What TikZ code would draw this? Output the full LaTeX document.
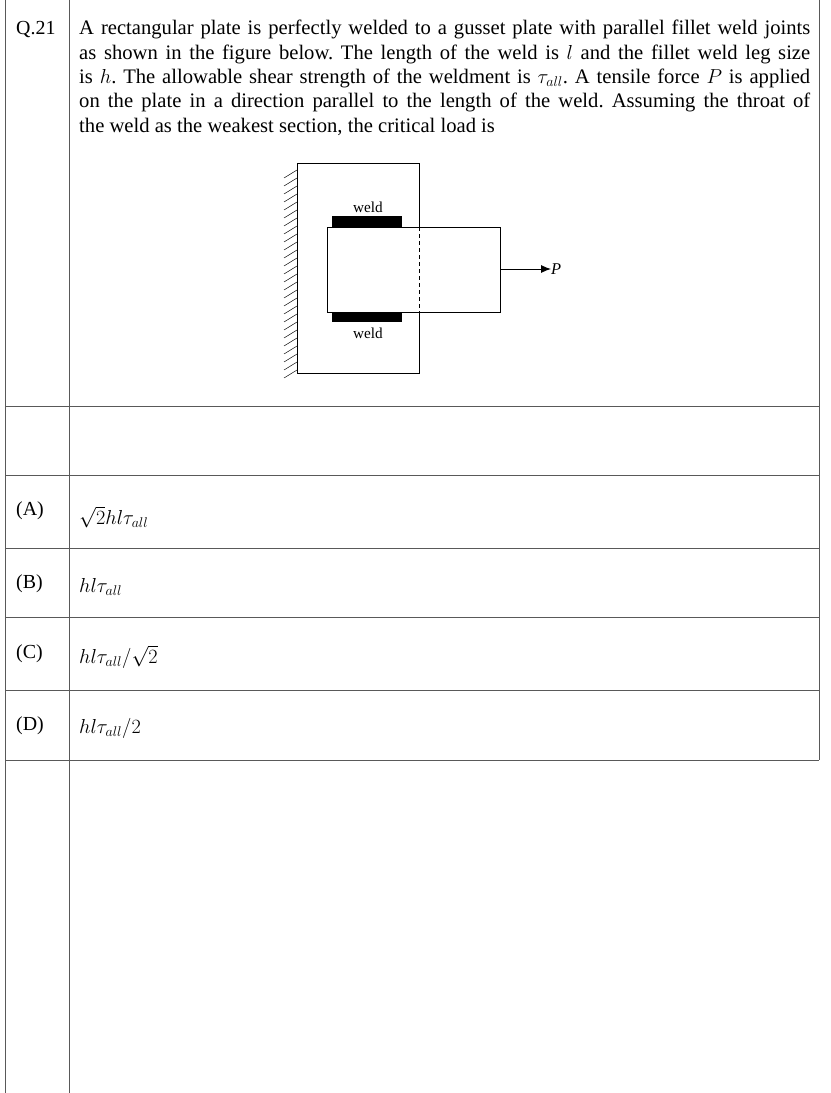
\documentclass[tikz,border=0pt]{standalone}
\usepackage{fontspec}
\setmainfont{Liberation Serif}
\usetikzlibrary{arrows.meta}
\tikzstyle{txt} = [anchor=west, inner sep=0mm, font=\fontsize{17}{20}\selectfont]
\tikzstyle{ans} = [anchor=west, inner sep=0mm, font=\fontsize{18.5}{20}\selectfont]
\tikzstyle{rule} = [gray!70!black, thin]
\def\cB{black}

\begin{document}
\frenchspacing
\begin{tikzpicture}[x=0.03cm,y=-0.03cm,>=latex]
\useasboundingbox (0,0) rectangle (830,1093);

% table frame
\draw[rule] (5,0) -- (5,1093);
\draw[rule] (69,0) -- (69,1093);
\draw[rule] (819,0) -- (819,760);
\foreach \y in {406,475,548,617,690,760}
  \draw[rule] (5,\y) -- (819,\y);

\node[txt] at (16,30) (qno) {Q.21};
\node[anchor=north west, inner sep=0mm, text width=21.93cm, align=justify,
      font=\fontsize{17.6}{20.8}\selectfont] at (79,20) (stem)
  {A rectangular plate is perfectly welded to a gusset plate with parallel fillet weld joints\linebreak
   as shown in the figure below. The length of the weld is $l$ and the fillet weld leg size\linebreak
   is $h$. The allowable shear strength of the weldment is $\tau_{all}$. A tensile force $P$ is applied\linebreak
   on the plate in a direction parallel to the length of the weld. Assuming the throat of\linebreak
   the weld as the weakest section, the critical load is};

% figure
\foreach \y in {170,178,...,374}
  \draw (297,\y) -- ++(-13,8);
\draw[thick] (297,163) -- (297,373);
\draw (297,163) rectangle (419,373);
\fill[white] (327,227) rectangle (500,312);
\draw (327,227) rectangle (500,312);
\draw[dashed] (419,227) -- (419,312);
\fill[\cB] (332,216) rectangle (402,227);
\fill[\cB] (332,312) rectangle (402,322);
\node[inner sep=0mm, font=\fontsize{13}{14}\selectfont] at (368,207) (w1) {weld};
\node[inner sep=0mm, font=\fontsize{13}{14}\selectfont] at (368,333) (w2) {weld};
\coordinate (load) at (500,269);
\node[txt, font=\fontsize{14}{15}\selectfont\itshape] at (551,269) (P) {P};
\draw[-{Latex[length=3mm,width=2.4mm]},thick] (load) -- (P.west);

% options
\node[txt] at (16,511) (oA) {(A)};
\node[ans] at (79,517) (fA) {$\sqrt{2}hl\tau_{all}$};
\node[txt] at (16,584) (oB) {(B)};
\node[ans] at (79,587) (fB) {$hl\tau_{all}$};
\node[txt] at (16,654) (oC) {(C)};
\node[ans] at (79,657) (fC) {$hl\tau_{all}/\sqrt{2}$};
\node[txt] at (16,726) (oD) {(D)};
\node[ans] at (79,728) (fD) {$hl\tau_{all}/2$};

\end{tikzpicture}
\end{document}
